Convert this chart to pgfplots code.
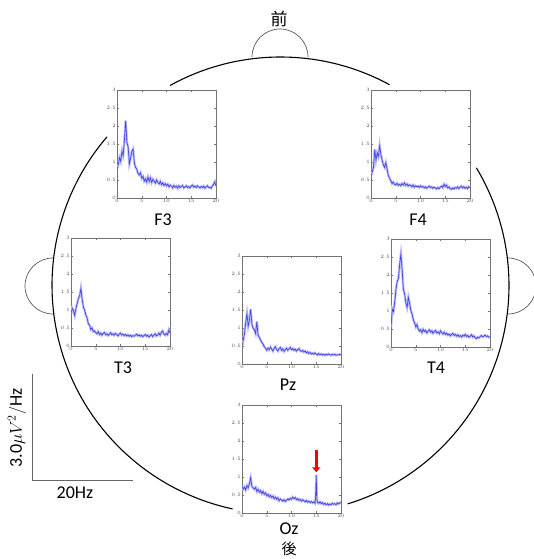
\documentclass[border=0pt]{standalone}
\usepackage{pgfplots}
\pgfplotsset{compat=1.18}
\usetikzlibrary{arrows.meta}
\usepackage{fontspec}
\setmainfont{Carlito}
\newfontfamily\cjk{Noto Sans CJK JP}

\definecolor{specblue}{RGB}{60,60,225}
\pgfplotsset{
  eeg/.style={
    scale only axis, width=99pt, height=108pt, anchor=south west,
    xmin=0, xmax=20, ymin=0, ymax=3,
    xtick={0,5,10,15,20}, ytick={0,0.5,1,1.5,2,2.5,3},
    axis line style={black!55, line width=0.5pt},
    tick style={black!55, line width=0.3pt}, major tick length=2pt,
    tick label style={font=\fontsize{3}{3}\selectfont, text=black!70, inner sep=1pt},
  },
  band/.style={specblue!35, line width=2.4pt, no marks},
  core/.style={specblue, line width=0.6pt, no marks},
}

\begin{document}
\begin{tikzpicture}
\useasboundingbox (0,0) rectangle (533pt,559pt);

% head
\draw[black, line width=1.1pt] (280.5pt,273.5pt) ++(61.5:228.5pt) arc[start angle=61.5, end angle=118.9, radius=228.5pt];
\draw[black, line width=1.1pt] (280.5pt,273.5pt) ++(139.4:228.5pt) arc[start angle=139.4, end angle=257.9, radius=228.5pt];
\draw[black, line width=1.1pt] (280.5pt,273.5pt) ++(-72.9:228.5pt) arc[start angle=-72.9, end angle=31.0, radius=228.5pt];
% nose and ears
\draw[black!65, line width=0.7pt] (308pt,502pt) arc[start angle=0, end angle=180, radius=28pt];
\draw[black!65, line width=0.7pt] (53pt,301pt) arc[start angle=90, end angle=270, radius=28pt];
\draw[black!65, line width=0.7pt] (508pt,245pt) arc[start angle=-90, end angle=90, radius=28pt];
\node[font=\cjk\fontsize{17}{17}\selectfont] at (279pt,540pt) {前};
\node[font=\cjk\fontsize{15}{15}\selectfont] at (289pt,10pt) {後};

% scale bar
\draw[black!60, line width=0.8pt] (32pt,185pt) -- (32pt,79pt) -- (133pt,79pt);
\node[rotate=90, font=\fontsize{18}{18}\selectfont] at (17pt,131pt) {3.0$\mu V^2/\mathrm{Hz}$};
\node[font=\fontsize{18}{18}\selectfont] at (75pt,66pt) {20Hz};

% channel labels
\foreach \lab/\px/\py in {F3/163/339, F4/418/339, T3/123/191, T4/436/191, Pz/288/174, Oz/289/30}
  \node[font=\fontsize{18}{18}\selectfont] at (\px pt,\py pt) {\lab};

% F3
\begin{axis}[eeg, at={(117pt,361pt)}]
\addplot[band] coordinates {(0,1.00)(0.25,0.92)(0.5,1.12)(0.75,1.02)(1,1.30)(1.25,1.18)(1.5,1.62)(1.75,2.15)(2,1.55)(2.25,1.42)(2.5,0.95)(2.75,1.12)(3,1.30)(3.25,1.36)(3.5,0.98)(3.75,0.85)(4,0.80)(4.25,0.68)(4.5,0.64)(4.75,0.70)(5,0.55)(5.25,0.60)(5.5,0.47)(5.75,0.53)(6,0.44)(6.25,0.58)(6.5,0.46)(6.75,0.56)(7,0.43)(7.25,0.52)(7.5,0.47)(7.75,0.41)(8,0.50)(8.25,0.43)(8.5,0.39)(8.75,0.46)(9,0.37)(9.25,0.42)(9.5,0.35)(9.75,0.40)(10,0.34)(10.25,0.38)(10.5,0.31)(10.75,0.36)(11,0.33)(11.25,0.28)(11.5,0.35)(11.75,0.30)(12,0.33)(12.25,0.27)(12.5,0.34)(12.75,0.29)(13,0.32)(13.25,0.35)(13.5,0.28)(13.75,0.31)(14,0.34)(14.25,0.29)(14.5,0.32)(14.75,0.28)(15,0.33)(15.25,0.36)(15.5,0.30)(15.75,0.33)(16,0.29)(16.25,0.34)(16.5,0.31)(16.75,0.28)(17,0.32)(17.25,0.29)(17.5,0.33)(17.75,0.27)(18,0.31)(18.25,0.34)(18.5,0.29)(18.75,0.30)(19,0.27)(19.25,0.33)(19.5,0.38)(19.75,0.45)(20,0.33)};
\addplot[core] coordinates {(0,1.00)(0.25,0.92)(0.5,1.12)(0.75,1.02)(1,1.30)(1.25,1.18)(1.5,1.62)(1.75,2.15)(2,1.55)(2.25,1.42)(2.5,0.95)(2.75,1.12)(3,1.30)(3.25,1.36)(3.5,0.98)(3.75,0.85)(4,0.80)(4.25,0.68)(4.5,0.64)(4.75,0.70)(5,0.55)(5.25,0.60)(5.5,0.47)(5.75,0.53)(6,0.44)(6.25,0.58)(6.5,0.46)(6.75,0.56)(7,0.43)(7.25,0.52)(7.5,0.47)(7.75,0.41)(8,0.50)(8.25,0.43)(8.5,0.39)(8.75,0.46)(9,0.37)(9.25,0.42)(9.5,0.35)(9.75,0.40)(10,0.34)(10.25,0.38)(10.5,0.31)(10.75,0.36)(11,0.33)(11.25,0.28)(11.5,0.35)(11.75,0.30)(12,0.33)(12.25,0.27)(12.5,0.34)(12.75,0.29)(13,0.32)(13.25,0.35)(13.5,0.28)(13.75,0.31)(14,0.34)(14.25,0.29)(14.5,0.32)(14.75,0.28)(15,0.33)(15.25,0.36)(15.5,0.30)(15.75,0.33)(16,0.29)(16.25,0.34)(16.5,0.31)(16.75,0.28)(17,0.32)(17.25,0.29)(17.5,0.33)(17.75,0.27)(18,0.31)(18.25,0.34)(18.5,0.29)(18.75,0.30)(19,0.27)(19.25,0.33)(19.5,0.38)(19.75,0.45)(20,0.33)};
\end{axis}

% F4
\begin{axis}[eeg, at={(371pt,361pt)}]
\addplot[band] coordinates {(0,0.78)(0.25,0.72)(0.5,0.85)(0.75,1.35)(1,1.05)(1.25,1.25)(1.5,1.15)(1.75,1.45)(2,1.20)(2.25,1.05)(2.5,0.92)(2.75,0.85)(3,0.98)(3.25,0.80)(3.5,0.62)(3.75,0.55)(4,0.48)(4.25,0.40)(4.5,0.44)(4.75,0.38)(5,0.36)(5.25,0.41)(5.5,0.35)(5.75,0.38)(6,0.34)(6.25,0.40)(6.5,0.36)(6.75,0.42)(7,0.35)(7.25,0.39)(7.5,0.33)(7.75,0.37)(8,0.35)(8.25,0.31)(8.5,0.36)(8.75,0.30)(9,0.34)(9.25,0.31)(9.5,0.33)(9.75,0.29)(10,0.34)(10.25,0.30)(10.5,0.32)(10.75,0.28)(11,0.31)(11.25,0.27)(11.5,0.30)(11.75,0.33)(12,0.29)(12.25,0.31)(12.5,0.27)(12.75,0.30)(13,0.28)(13.25,0.25)(13.5,0.29)(13.75,0.26)(14,0.30)(14.25,0.33)(14.5,0.29)(14.75,0.38)(15,0.32)(15.25,0.36)(15.5,0.28)(15.75,0.31)(16,0.26)(16.25,0.24)(16.5,0.28)(16.75,0.25)(17,0.29)(17.25,0.27)(17.5,0.31)(17.75,0.26)(18,0.30)(18.25,0.33)(18.5,0.28)(18.75,0.31)(19,0.27)(19.25,0.30)(19.5,0.26)(19.75,0.31)(20,0.28)};
\addplot[core] coordinates {(0,0.78)(0.25,0.72)(0.5,0.85)(0.75,1.35)(1,1.05)(1.25,1.25)(1.5,1.15)(1.75,1.45)(2,1.20)(2.25,1.05)(2.5,0.92)(2.75,0.85)(3,0.98)(3.25,0.80)(3.5,0.62)(3.75,0.55)(4,0.48)(4.25,0.40)(4.5,0.44)(4.75,0.38)(5,0.36)(5.25,0.41)(5.5,0.35)(5.75,0.38)(6,0.34)(6.25,0.40)(6.5,0.36)(6.75,0.42)(7,0.35)(7.25,0.39)(7.5,0.33)(7.75,0.37)(8,0.35)(8.25,0.31)(8.5,0.36)(8.75,0.30)(9,0.34)(9.25,0.31)(9.5,0.33)(9.75,0.29)(10,0.34)(10.25,0.30)(10.5,0.32)(10.75,0.28)(11,0.31)(11.25,0.27)(11.5,0.30)(11.75,0.33)(12,0.29)(12.25,0.31)(12.5,0.27)(12.75,0.30)(13,0.28)(13.25,0.25)(13.5,0.29)(13.75,0.26)(14,0.30)(14.25,0.33)(14.5,0.29)(14.75,0.38)(15,0.32)(15.25,0.36)(15.5,0.28)(15.75,0.31)(16,0.26)(16.25,0.24)(16.5,0.28)(16.75,0.25)(17,0.29)(17.25,0.27)(17.5,0.31)(17.75,0.26)(18,0.30)(18.25,0.33)(18.5,0.28)(18.75,0.31)(19,0.27)(19.25,0.30)(19.5,0.26)(19.75,0.31)(20,0.28)};
\end{axis}

% T3
\begin{axis}[eeg, at={(71pt,213pt)}]
\addplot[band] coordinates {(0,0.90)(0.25,1.05)(0.5,0.98)(0.75,0.85)(1,1.05)(1.25,1.18)(1.5,1.32)(1.75,1.40)(2,1.60)(2.25,1.30)(2.5,1.08)(2.75,1.00)(3,0.86)(3.25,0.78)(3.5,0.62)(3.75,0.58)(4,0.46)(4.25,0.50)(4.5,0.40)(4.75,0.42)(5,0.37)(5.25,0.34)(5.5,0.40)(5.75,0.32)(6,0.36)(6.25,0.30)(6.5,0.35)(6.75,0.38)(7,0.31)(7.25,0.34)(7.5,0.29)(7.75,0.33)(8,0.37)(8.25,0.31)(8.5,0.34)(8.75,0.30)(9,0.35)(9.25,0.32)(9.5,0.28)(9.75,0.33)(10,0.36)(10.25,0.30)(10.5,0.33)(10.75,0.29)(11,0.32)(11.25,0.28)(11.5,0.31)(11.75,0.27)(12,0.30)(12.25,0.26)(12.5,0.29)(12.75,0.27)(13,0.30)(13.25,0.33)(13.5,0.28)(13.75,0.31)(14,0.27)(14.25,0.30)(14.5,0.26)(14.75,0.29)(15,0.32)(15.25,0.27)(15.5,0.30)(15.75,0.25)(16,0.29)(16.25,0.32)(16.5,0.26)(16.75,0.30)(17,0.34)(17.25,0.28)(17.5,0.31)(17.75,0.36)(18,0.30)(18.25,0.38)(18.5,0.42)(18.75,0.33)(19,0.30)(19.25,0.35)(19.5,0.31)(19.75,0.44)(20,0.36)};
\addplot[core] coordinates {(0,0.90)(0.25,1.05)(0.5,0.98)(0.75,0.85)(1,1.05)(1.25,1.18)(1.5,1.32)(1.75,1.40)(2,1.60)(2.25,1.30)(2.5,1.08)(2.75,1.00)(3,0.86)(3.25,0.78)(3.5,0.62)(3.75,0.58)(4,0.46)(4.25,0.50)(4.5,0.40)(4.75,0.42)(5,0.37)(5.25,0.34)(5.5,0.40)(5.75,0.32)(6,0.36)(6.25,0.30)(6.5,0.35)(6.75,0.38)(7,0.31)(7.25,0.34)(7.5,0.29)(7.75,0.33)(8,0.37)(8.25,0.31)(8.5,0.34)(8.75,0.30)(9,0.35)(9.25,0.32)(9.5,0.28)(9.75,0.33)(10,0.36)(10.25,0.30)(10.5,0.33)(10.75,0.29)(11,0.32)(11.25,0.28)(11.5,0.31)(11.75,0.27)(12,0.30)(12.25,0.26)(12.5,0.29)(12.75,0.27)(13,0.30)(13.25,0.33)(13.5,0.28)(13.75,0.31)(14,0.27)(14.25,0.30)(14.5,0.26)(14.75,0.29)(15,0.32)(15.25,0.27)(15.5,0.30)(15.75,0.25)(16,0.29)(16.25,0.32)(16.5,0.26)(16.75,0.30)(17,0.34)(17.25,0.28)(17.5,0.31)(17.75,0.36)(18,0.30)(18.25,0.38)(18.5,0.42)(18.75,0.33)(19,0.30)(19.25,0.35)(19.5,0.31)(19.75,0.44)(20,0.36)};
\end{axis}

% Pz
\begin{axis}[eeg, at={(242pt,195pt)}]
\addplot[band] coordinates {(0,0.75)(0.25,0.65)(0.5,0.85)(0.75,1.15)(1,1.40)(1.25,1.05)(1.5,1.22)(1.75,1.52)(2,1.10)(2.25,1.00)(2.5,0.95)(2.75,0.85)(3,1.18)(3.25,0.80)(3.5,0.74)(3.75,0.66)(4,0.60)(4.25,0.55)(4.5,0.48)(4.75,0.44)(5,0.38)(5.25,0.44)(5.5,0.40)(5.75,0.47)(6,0.41)(6.25,0.36)(6.5,0.44)(6.75,0.48)(7,0.40)(7.25,0.36)(7.5,0.43)(7.75,0.46)(8,0.38)(8.25,0.42)(8.5,0.35)(8.75,0.40)(9,0.44)(9.25,0.38)(9.5,0.42)(9.75,0.46)(10,0.40)(10.25,0.43)(10.5,0.38)(10.75,0.41)(11,0.36)(11.25,0.40)(11.5,0.43)(11.75,0.37)(12,0.35)(12.25,0.38)(12.5,0.33)(12.75,0.36)(13,0.31)(13.25,0.34)(13.5,0.29)(13.75,0.32)(14,0.28)(14.25,0.30)(14.5,0.27)(14.75,0.31)(15,0.28)(15.25,0.25)(15.5,0.29)(15.75,0.26)(16,0.28)(16.25,0.25)(16.5,0.27)(16.75,0.24)(17,0.27)(17.25,0.25)(17.5,0.28)(17.75,0.26)(18,0.24)(18.25,0.27)(18.5,0.25)(18.75,0.27)(19,0.24)(19.25,0.26)(19.5,0.25)(19.75,0.27)(20,0.25)};
\addplot[core] coordinates {(0,0.75)(0.25,0.65)(0.5,0.85)(0.75,1.15)(1,1.40)(1.25,1.05)(1.5,1.22)(1.75,1.52)(2,1.10)(2.25,1.00)(2.5,0.95)(2.75,0.85)(3,1.18)(3.25,0.80)(3.5,0.74)(3.75,0.66)(4,0.60)(4.25,0.55)(4.5,0.48)(4.75,0.44)(5,0.38)(5.25,0.44)(5.5,0.40)(5.75,0.47)(6,0.41)(6.25,0.36)(6.5,0.44)(6.75,0.48)(7,0.40)(7.25,0.36)(7.5,0.43)(7.75,0.46)(8,0.38)(8.25,0.42)(8.5,0.35)(8.75,0.40)(9,0.44)(9.25,0.38)(9.5,0.42)(9.75,0.46)(10,0.40)(10.25,0.43)(10.5,0.38)(10.75,0.41)(11,0.36)(11.25,0.40)(11.5,0.43)(11.75,0.37)(12,0.35)(12.25,0.38)(12.5,0.33)(12.75,0.36)(13,0.31)(13.25,0.34)(13.5,0.29)(13.75,0.32)(14,0.28)(14.25,0.30)(14.5,0.27)(14.75,0.31)(15,0.28)(15.25,0.25)(15.5,0.29)(15.75,0.26)(16,0.28)(16.25,0.25)(16.5,0.27)(16.75,0.24)(17,0.27)(17.25,0.25)(17.5,0.28)(17.75,0.26)(18,0.24)(18.25,0.27)(18.5,0.25)(18.75,0.27)(19,0.24)(19.25,0.26)(19.5,0.25)(19.75,0.27)(20,0.25)};
\end{axis}

% T4
\begin{axis}[eeg, at={(391pt,212pt)}]
\addplot[band] coordinates {(0,0.55)(0.25,1.05)(0.5,0.98)(0.75,1.25)(1,1.60)(1.25,1.82)(1.5,1.90)(1.75,2.30)(2,2.58)(2.25,2.15)(2.5,1.60)(2.75,1.48)(3,1.22)(3.25,1.10)(3.5,1.38)(3.75,1.22)(4,1.02)(4.25,0.92)(4.5,0.76)(4.75,0.68)(5,0.56)(5.25,0.62)(5.5,0.50)(5.75,0.44)(6,0.48)(6.25,0.40)(6.5,0.49)(6.75,0.43)(7,0.46)(7.25,0.39)(7.5,0.44)(7.75,0.48)(8,0.41)(8.25,0.45)(8.5,0.38)(8.75,0.43)(9,0.46)(9.25,0.39)(9.5,0.42)(9.75,0.37)(10,0.45)(10.25,0.40)(10.5,0.36)(10.75,0.41)(11,0.35)(11.25,0.38)(11.5,0.33)(11.75,0.36)(12,0.31)(12.25,0.35)(12.5,0.38)(12.75,0.32)(13,0.35)(13.25,0.30)(13.5,0.34)(13.75,0.29)(14,0.32)(14.25,0.28)(14.5,0.33)(14.75,0.30)(15,0.35)(15.25,0.29)(15.5,0.32)(15.75,0.27)(16,0.30)(16.25,0.34)(16.5,0.28)(16.75,0.31)(17,0.26)(17.25,0.23)(17.5,0.27)(17.75,0.25)(18,0.29)(18.25,0.32)(18.5,0.28)(18.75,0.30)(19,0.33)(19.25,0.29)(19.5,0.31)(19.75,0.27)(20,0.29)};
\addplot[core] coordinates {(0,0.55)(0.25,1.05)(0.5,0.98)(0.75,1.25)(1,1.60)(1.25,1.82)(1.5,1.90)(1.75,2.30)(2,2.58)(2.25,2.15)(2.5,1.60)(2.75,1.48)(3,1.22)(3.25,1.10)(3.5,1.38)(3.75,1.22)(4,1.02)(4.25,0.92)(4.5,0.76)(4.75,0.68)(5,0.56)(5.25,0.62)(5.5,0.50)(5.75,0.44)(6,0.48)(6.25,0.40)(6.5,0.49)(6.75,0.43)(7,0.46)(7.25,0.39)(7.5,0.44)(7.75,0.48)(8,0.41)(8.25,0.45)(8.5,0.38)(8.75,0.43)(9,0.46)(9.25,0.39)(9.5,0.42)(9.75,0.37)(10,0.45)(10.25,0.40)(10.5,0.36)(10.75,0.41)(11,0.35)(11.25,0.38)(11.5,0.33)(11.75,0.36)(12,0.31)(12.25,0.35)(12.5,0.38)(12.75,0.32)(13,0.35)(13.25,0.30)(13.5,0.34)(13.75,0.29)(14,0.32)(14.25,0.28)(14.5,0.33)(14.75,0.30)(15,0.35)(15.25,0.29)(15.5,0.32)(15.75,0.27)(16,0.30)(16.25,0.34)(16.5,0.28)(16.75,0.31)(17,0.26)(17.25,0.23)(17.5,0.27)(17.75,0.25)(18,0.29)(18.25,0.32)(18.5,0.28)(18.75,0.30)(19,0.33)(19.25,0.29)(19.5,0.31)(19.75,0.27)(20,0.29)};
\end{axis}

% Oz
\begin{axis}[eeg, at={(242pt,46pt)}]
\addplot[band] coordinates {(0,0.74)(0.25,0.66)(0.5,0.72)(0.75,0.64)(1,0.76)(1.25,0.70)(1.5,0.82)(1.75,0.98)(2,0.74)(2.25,0.70)(2.5,0.66)(2.75,0.71)(3,0.60)(3.25,0.66)(3.5,0.58)(3.75,0.62)(4,0.54)(4.25,0.60)(4.5,0.52)(4.75,0.56)(5,0.48)(5.25,0.52)(5.5,0.45)(5.75,0.49)(6,0.43)(6.25,0.47)(6.5,0.40)(6.75,0.44)(7,0.38)(7.25,0.42)(7.5,0.34)(7.75,0.39)(8,0.36)(8.25,0.33)(8.5,0.37)(8.75,0.32)(9,0.35)(9.25,0.39)(9.5,0.36)(9.75,0.41)(10,0.38)(10.25,0.44)(10.5,0.40)(10.75,0.43)(11,0.37)(11.25,0.40)(11.5,0.35)(11.75,0.38)(12,0.33)(12.25,0.37)(12.5,0.34)(12.75,0.31)(13,0.35)(13.25,0.30)(13.5,0.33)(13.75,0.29)(14,0.32)(14.25,0.28)(14.5,0.31)(14.75,0.27)(14.875,0.42)(15,1.05)(15.125,0.40)(15.25,0.30)(15.5,0.27)(15.75,0.31)(16,0.26)(16.25,0.29)(16.5,0.24)(16.75,0.27)(17,0.23)(17.25,0.26)(17.5,0.22)(17.75,0.25)(18,0.23)(18.25,0.27)(18.5,0.24)(18.75,0.26)(19,0.23)(19.25,0.28)(19.5,0.25)(19.75,0.28)(20,0.30)};
\addplot[core] coordinates {(0,0.74)(0.25,0.66)(0.5,0.72)(0.75,0.64)(1,0.76)(1.25,0.70)(1.5,0.82)(1.75,0.98)(2,0.74)(2.25,0.70)(2.5,0.66)(2.75,0.71)(3,0.60)(3.25,0.66)(3.5,0.58)(3.75,0.62)(4,0.54)(4.25,0.60)(4.5,0.52)(4.75,0.56)(5,0.48)(5.25,0.52)(5.5,0.45)(5.75,0.49)(6,0.43)(6.25,0.47)(6.5,0.40)(6.75,0.44)(7,0.38)(7.25,0.42)(7.5,0.34)(7.75,0.39)(8,0.36)(8.25,0.33)(8.5,0.37)(8.75,0.32)(9,0.35)(9.25,0.39)(9.5,0.36)(9.75,0.41)(10,0.38)(10.25,0.44)(10.5,0.40)(10.75,0.43)(11,0.37)(11.25,0.40)(11.5,0.35)(11.75,0.38)(12,0.33)(12.25,0.37)(12.5,0.34)(12.75,0.31)(13,0.35)(13.25,0.30)(13.5,0.33)(13.75,0.29)(14,0.32)(14.25,0.28)(14.5,0.31)(14.75,0.27)(14.875,0.42)(15,1.05)(15.125,0.40)(15.25,0.30)(15.5,0.27)(15.75,0.31)(16,0.26)(16.25,0.29)(16.5,0.24)(16.75,0.27)(17,0.23)(17.25,0.26)(17.5,0.22)(17.75,0.25)(18,0.23)(18.25,0.27)(18.5,0.24)(18.75,0.26)(19,0.23)(19.25,0.28)(19.5,0.25)(19.75,0.28)(20,0.30)};
\draw[red, line width=3pt, -{Triangle[width=8pt,length=5pt]}] (axis cs:15,1.75) -- (axis cs:15,1.13);
\end{axis}
\end{tikzpicture}
\end{document}
